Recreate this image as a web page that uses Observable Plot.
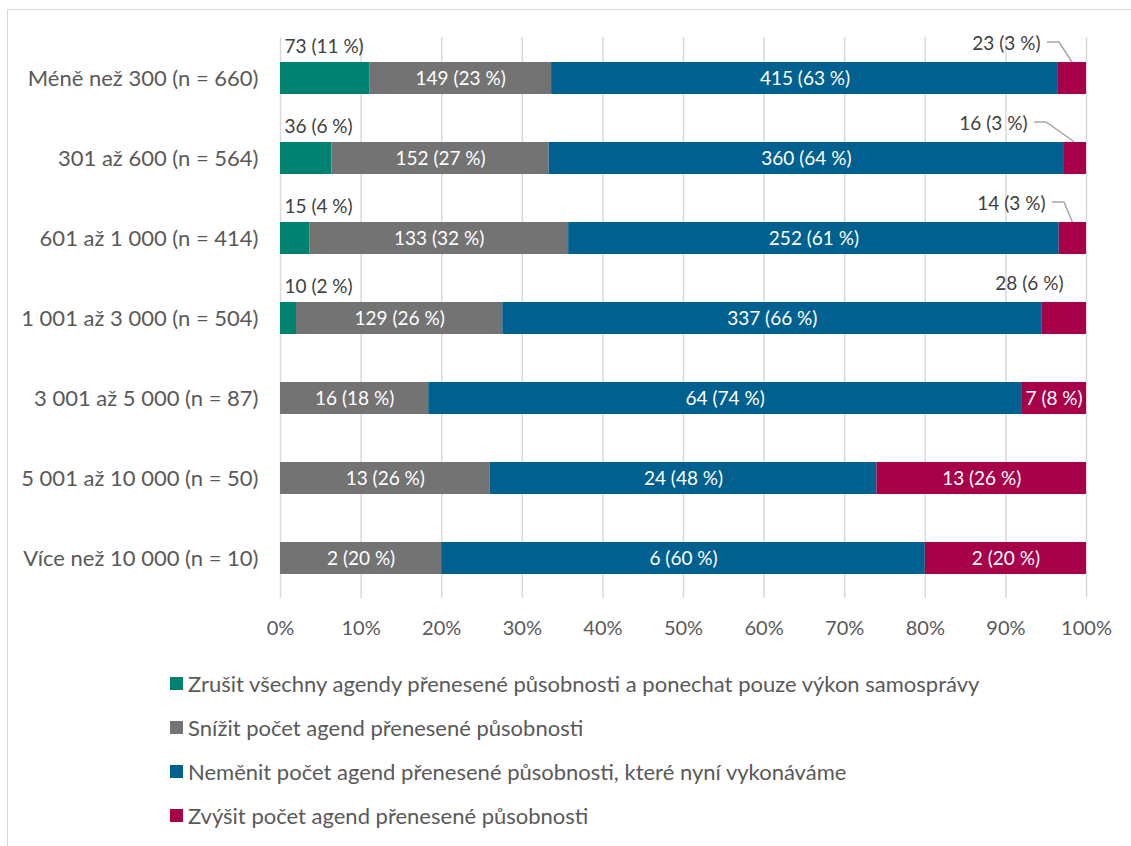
<!DOCTYPE html>
<html><head><meta charset="utf-8">
<script src="https://cdn.jsdelivr.net/npm/d3@7"></script>
<script src="https://cdn.jsdelivr.net/npm/@observablehq/plot@0.6"></script>
<style>
body{margin:0;background:#fff;font-family:Lato,"Noto Sans",sans-serif;}
#frame{position:absolute;left:7px;top:9px;width:1200px;height:900px;border:1.5px solid #d9d9d9;}
#chart{position:absolute;left:0;top:0;}
#legend{position:absolute;left:170px;top:661px;}
.item{height:44px;display:flex;align-items:center;font-size:22px;color:#595959;}
.sw{width:13px;height:13px;margin-right:5px;flex:none;}
</style></head><body>
<div id="frame"></div><div id="chart"></div><div id="legend"></div>
<script>
const groups = ["Méně než 300 (n = 660)", "301 až 600 (n = 564)", "601 až 1 000 (n = 414)", "1 001 až 3 000 (n = 504)", "3 001 až 5 000 (n = 87)", "5 001 až 10 000 (n = 50)", "Více než 10 000 (n = 10)"];
const answers = ["Zrušit všechny agendy přenesené působnosti a ponechat pouze výkon samosprávy", "Snížit počet agend přenesené působnosti", "Neměnit počet agend přenesené působnosti, které nyní vykonáváme", "Zvýšit počet agend přenesené působnosti"];
const colors = ["#008270", "#737373", "#00608f", "#a80048"];
const zrusit = [73, 36, 15, 10, 0, 0, 0];
const snizit = [149, 152, 133, 129, 16, 13, 2];
const nemenit = [415, 360, 252, 337, 64, 24, 6];
const zvysit = [23, 16, 14, 28, 7, 13, 2];
const zrusitPct = [11, 6, 4, 2, 0, 0, 0];
const snizitPct = [23, 27, 32, 26, 18, 26, 20];
const nemenitPct = [63, 64, 61, 66, 74, 48, 60];
const zvysitPct = [3, 3, 3, 6, 8, 26, 20];
const xTicks = [0, 0.1, 0.2, 0.3, 0.4, 0.5, 0.6, 0.7, 0.8, 0.9, 1];

const counts = [zrusit, snizit, nemenit, zvysit];
const pcts = [zrusitPct, snizitPct, nemenitPct, zvysitPct];
const data = [];
groups.forEach((g, gi) => {
  answers.forEach((a, ai) => {
    const c = counts[ai][gi];
    if (c > 0) data.push({group: g, gi, answer: a, ai, count: c, pct: pcts[ai][gi], label: `${c} (${pcts[ai][gi]} %)`});
  });
});
const isOutside = d => d.ai === 0 || d.pct < 7;
// horizontal shifts (px) of the outside labels of the last series, per row
const rightShift = {0: -46, 1: -59, 2: -41, 3: -23};
const outsideLeft = data.filter(d => isOutside(d) && d.ai === 0);
const outsideRight = data.filter(d => isOutside(d) && d.ai === 3);
const leaders = outsideRight.filter(d => d.pct < 5);
const totals = groups.map((g, gi) => counts.reduce((s, arr) => s + arr[gi], 0));

const leaderMark = (index, scales) => {
  const x = scales.x, y = scales.y;
  const bw = y.bandwidth ? y.bandwidth() : 32;
  const gEl = d3.create("svg:g").attr("fill", "none").attr("stroke", "#a6a6a6").attr("stroke-width", 1.5);
  for (const d of leaders) {
    const cy = y(d.group) + bw / 2;
    const ly = cy - 36;
    const xs = x(1) + rightShift[d.gi] + 7;
    const mid = x(1 - d.count / totals[d.gi] / 2);
    gEl.append("polyline").attr("points", `${xs},${ly} ${xs + 12},${ly} ${mid},${cy - bw / 2}`);
  }
  return gEl.node();
};

const plot = Plot.plot({
  width: 1131,
  height: 650,
  marginLeft: 280,
  marginRight: 45,
  marginTop: 37,
  marginBottom: 52,
  style: {fontFamily: "Lato, 'Noto Sans', sans-serif", fontSize: "20px", color: "#595959", background: "transparent"},
  x: {domain: [0, 1], ticks: xTicks, tickFormat: d3.format(".0%"), tickSize: 0, tickPadding: 22, label: null},
  y: {domain: groups, paddingInner: 0.6, paddingOuter: 0.3, tickSize: 0, tickPadding: 22, label: null},
  color: {domain: answers, range: colors},
  marks: [
    Plot.gridX(xTicks, {stroke: "#d9d9d9", strokeOpacity: 1, strokeWidth: 1.5}),
    Plot.barX(data, Plot.stackX({x: "count", y: "group", fill: "answer", offset: "normalize"})),
    Plot.text(data, Plot.stackX({x: "count", y: "group", offset: "normalize", text: d => isOutside(d) ? null : d.label, fill: "white", fontSize: 19})),
    Plot.text(outsideLeft, {x: () => 0, y: "group", text: "label", textAnchor: "start", dx: 4, dy: -32, fill: "#404040", fontSize: 19}),
    Plot.text(outsideRight, {x: () => 1, y: "group", text: "label", textAnchor: "end", dy: -35, fill: "#404040", fontSize: 19}),
    leaderMark
  ]
});
document.getElementById("chart").append(plot);

// y axis labels larger
plot.querySelectorAll("g[aria-label='y-axis tick label'] text, g[aria-label='y-axis'] text").forEach(t => t.setAttribute("font-size", "22"));

// apply per-row horizontal shifts to right outside labels
{
  const texts = plot.querySelectorAll("g[aria-label='text']");
  const g = texts[texts.length - 1];
  if (g) g.querySelectorAll("text").forEach((t, i) => {
    const d = outsideRight[i];
    const tr = t.getAttribute("transform") || "";
    t.setAttribute("transform", tr + ` translate(${rightShift[d.gi] || 0},0)`);
  });
}

const legend = document.getElementById("legend");
answers.forEach((a, i) => {
  const it = document.createElement("div");
  it.className = "item";
  it.innerHTML = `<span class="sw" style="background:${colors[i]}"></span><span>${a}</span>`;
  legend.append(it);
});
</script>
</body></html>
